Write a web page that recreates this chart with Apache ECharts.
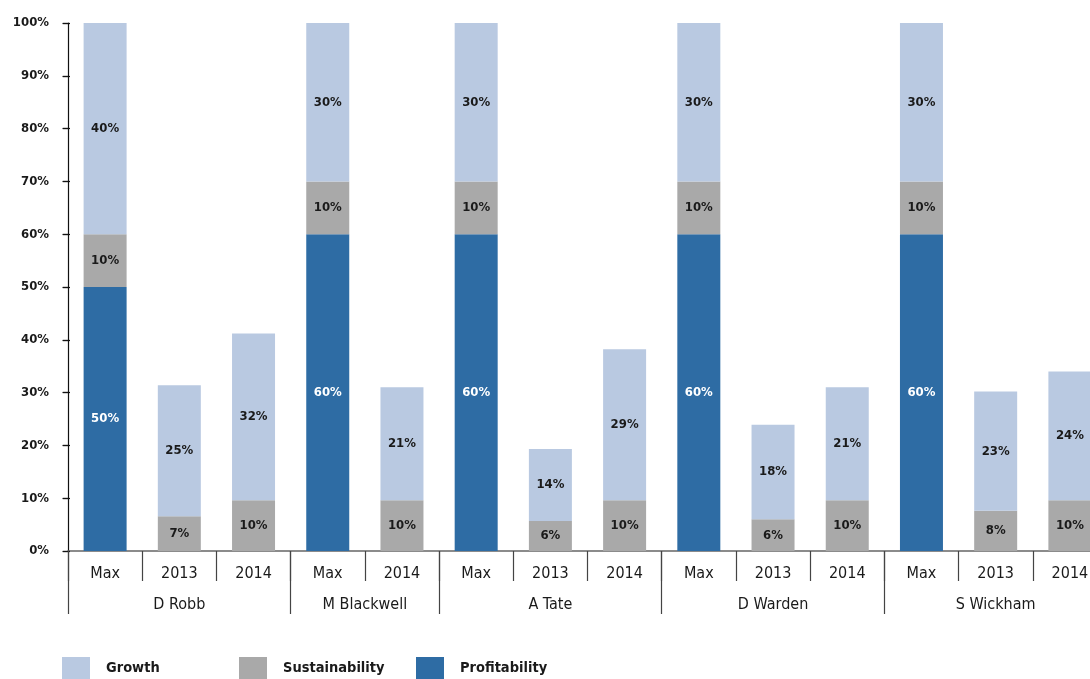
<!DOCTYPE html>
<html>
<head>
<meta charset="utf-8">
<script src="https://cdn.jsdelivr.net/npm/echarts@6/dist/echarts.min.js"></script>
<style>
  html, body { margin: 0; padding: 0; background: #ffffff; }
  #chart { width: 1090px; height: 679px; }
</style>
</head>
<body>
<div id="chart"></div>
<script>
// Scorecard weightings per director: maximum weighting and achieved scores by year
const groups = ['D Robb', 'M Blackwell', 'A Tate', 'D Warden', 'S Wickham'];
const groupSizes = [3, 2, 3, 3, 3];
const periods = ['Max', '2013', '2014', 'Max', '2014', 'Max', '2013', '2014',
                 'Max', '2013', '2014', 'Max', '2013', '2014'];

const profitability  = [50, 0, 0, 60, 0, 60, 0, 0, 60, 0, 0, 60, 0, 0];
const sustainability = [10, 6.6, 9.6, 10, 9.6, 10, 5.7, 9.6, 10, 6, 9.6, 10, 7.6, 9.6];
const growth         = [40, 24.8, 31.6, 30, 21.4, 30, 13.6, 28.6, 30, 17.9, 21.4, 30, 22.6, 24.4];

const yTicks = [0, 10, 20, 30, 40, 50, 60, 70, 80, 90, 100];

const FONT = '"DejaVu Sans Condensed", "DejaVu Sans", sans-serif';
const TEXT = '#1a1a1a';
const COLORS = { growth: '#b9c9e1', sustainability: '#a9a9a9', profitability: '#2e6ca4' };

// unique category keys so repeated period names stay separate slots
const catKeys = periods.map((p, i) => i + '|' + p);

// group boundaries and centres on a 0..N slot scale
const bounds = [0];
groupSizes.forEach(s => bounds.push(bounds[bounds.length - 1] + s));
const centres = groups.map((g, i) => (bounds[i] + bounds[i + 1]) / 2);

const chart = echarts.init(document.getElementById('chart'), null, { renderer: 'canvas' });

function barLabel(color) {
  return {
    show: true,
    position: 'inside',
    color: color,
    fontFamily: FONT,
    fontWeight: 'bold',
    fontSize: 13,
    formatter: p => (p.value > 0 ? Math.round(p.value) + '%' : '')
  };
}

function legendAt(name, left) {
  return {
    data: [name],
    left: left,
    top: 652,
    orient: 'horizontal',
    icon: 'rect',
    itemWidth: 28,
    itemHeight: 22,
    selectedMode: false,
    textStyle: {
      fontFamily: FONT,
      fontWeight: 'bold',
      fontSize: 14.5,
      color: TEXT,
      padding: [0, 0, 0, 11]
    }
  };
}

chart.setOption({
  animation: false,
  backgroundColor: '#ffffff',
  grid: { left: 68, right: -17, top: 23, bottom: 128, outerBoundsMode: 'none', containLabel: false },
  legend: [
    legendAt('Growth', 57),
    legendAt('Sustainability', 234),
    legendAt('Profitability', 411)
  ],
  xAxis: [
    {
      type: 'category',
      data: catKeys,
      position: 'bottom',
      boundaryGap: true,
      axisLine: { show: true, lineStyle: { color: '#666666', width: 1.5 } },
      axisTick: { show: true, interval: 0, length: 30, lineStyle: { color: '#444444', width: 1.2 } },
      axisLabel: {
        interval: 0,
        margin: 15,
        fontFamily: FONT,
        fontSize: 16,
        color: TEXT,
        formatter: v => v.split('|')[1]
      },
      splitLine: { show: false }
    },
    {
      // group row underneath the period labels
      type: 'value',
      position: 'bottom',
      min: 0,
      max: periods.length,
      axisLine: { show: false },
      axisTick: {
        show: true,
        customValues: bounds,
        length: 63,
        lineStyle: { color: '#444444', width: 1.2 }
      },
      axisLabel: {
        show: true,
        customValues: centres,
        margin: 46,
        fontFamily: FONT,
        fontSize: 16,
        color: TEXT,
        formatter: v => {
          const i = centres.indexOf(v);
          return i >= 0 ? groups[i] : '';
        }
      },
      splitLine: { show: false }
    }
  ],
  yAxis: [
    {
      type: 'value',
      position: 'left',
      offset: 5,
      min: yTicks[0],
      max: yTicks[yTicks.length - 1],
      interval: 10,
      axisLine: { show: true, lineStyle: { color: '#111111', width: 1.2 } },
      axisTick: { show: true, inside: false, length: 5.5, lineStyle: { color: '#111111', width: 1.2 } },
      axisLabel: {
        margin: 14,
        fontFamily: FONT,
        fontWeight: 'bold',
        fontSize: 13,
        color: TEXT,
        formatter: '{value}%'
      },
      splitLine: { show: false }
    },
    {
      // inner half of the cross ticks
      type: 'value',
      position: 'left',
      offset: 5,
      min: yTicks[0],
      max: yTicks[yTicks.length - 1],
      interval: 10,
      axisLine: { show: false },
      axisTick: { show: true, inside: true, length: 7, lineStyle: { color: '#111111', width: 1.2 } },
      axisLabel: { show: false },
      splitLine: { show: false }
    }
  ],
  series: [
    {
      name: 'Profitability',
      type: 'bar',
      stack: 'total',
      barWidth: 43,
      data: profitability,
      itemStyle: { color: COLORS.profitability },
      label: barLabel('#ffffff')
    },
    {
      name: 'Sustainability',
      type: 'bar',
      stack: 'total',
      barWidth: 43,
      data: sustainability,
      itemStyle: { color: COLORS.sustainability },
      label: barLabel(TEXT)
    },
    {
      name: 'Growth',
      type: 'bar',
      stack: 'total',
      barWidth: 43,
      data: growth,
      itemStyle: { color: COLORS.growth },
      label: barLabel(TEXT)
    }
  ]
});
</script>
</body>
</html>
